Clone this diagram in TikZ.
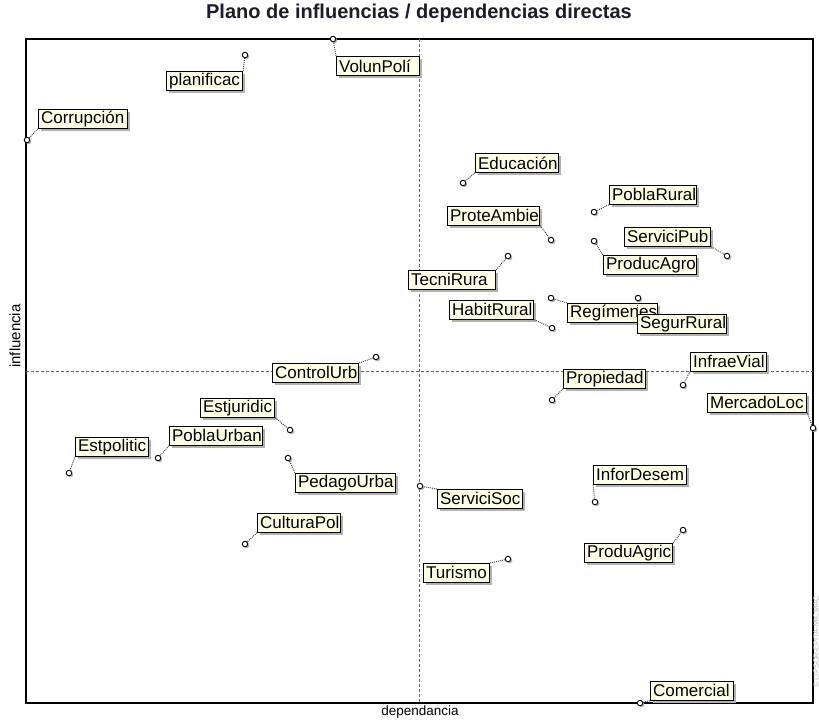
\documentclass[tikz,border=0pt]{standalone}
\usepackage{fontspec}
\setmainfont{Liberation Sans}
\usetikzlibrary{shadows}
\definecolor{cream}{HTML}{FFFFE6}
\definecolor{titlecol}{HTML}{1C1C2A}
\newcommand{\mylab}[2]{\makebox[#1pt][l]{\hspace{2.5pt}#2}}
\begin{document}
\begin{tikzpicture}[x=1pt,y=-1pt,
  lab/.style={draw=black, line width=1.2pt, fill=cream, inner sep=0pt,
    minimum height=18.5pt, anchor=north west, font=\fontsize{17}{18}\selectfont,
    drop shadow={shadow xshift=2.5pt, shadow yshift=-2.5pt, fill=gray!60, opacity=1}},
  pt/.style={circle, draw=black, fill=white, line width=0.9pt, inner sep=0pt,
    minimum size=5.5pt,
    drop shadow={shadow xshift=1.5pt, shadow yshift=-1.5pt, fill=gray!60, opacity=1}},
  conn/.style={densely dotted, line width=1pt, draw=gray!60!black},
  axisline/.style={draw=gray!80!black, line width=0.6pt, dash pattern=on 3pt off 2pt},
  axlab/.style={font=\fontsize{13.5}{15}\selectfont}]
\useasboundingbox (0,0) rectangle (819,721);
\fill[white] (0,0) rectangle (819,721);
\node[font=\bfseries\fontsize{20}{22}\selectfont, text=titlecol] (title) at (419,13) {Plano de influencias / dependencias directas};
% frame and axes
\draw[line width=1.3pt] (26,39) rectangle (813,703);
\draw[axisline] (419,39) -- (419,703);
\draw[axisline] (26,371) -- (813,371);
\node[axlab, rotate=90, font=\fontsize{15}{16}\selectfont] (ylab) at (15,336) {influencia};
\node[axlab] (xlab) at (420,712) {dependancia};
\node[rotate=90, font=\fontsize{7.5}{8}\selectfont, text=gray!55] (wm) at (816,642) {© LIPSOR-EPITA-MICMAC};
% labels
\node[lab] (l1) at (336,56) {\mylab{83}{VolunPolí}};
\node[lab] (l2) at (166,71) {\mylab{76}{planificac}};
\node[lab] (l3) at (38,109) {\mylab{89}{Corrupción}};
\node[lab] (l4) at (475,153) {\mylab{83}{Educación}};
\node[lab] (l5) at (609,185) {\mylab{87}{PoblaRural}};
\node[lab] (l6) at (447,206) {\mylab{92}{ProteAmbie}};
\node[lab] (l7) at (624,227) {\mylab{86}{ServiciPub}};
\node[lab] (l8) at (603,255) {\mylab{93}{ProducAgro}};
\node[lab] (l9) at (408,270) {\mylab{87}{TecniRura}};
\node[lab] (l10) at (449,300) {\mylab{84}{HabitRural}};
\node[lab] (l11) at (567,303) {\mylab{90}{Regímenes}};
\node[lab] (l12) at (637,314) {\mylab{89}{SegurRural}};
\node[lab] (l13) at (690,352) {\mylab{76}{InfraeVial}};
\node[lab] (l14) at (563,369) {\mylab{82}{Propiedad}};
\node[lab] (l15) at (707,393) {\mylab{99}{MercadoLoc}};
\node[lab] (l16) at (593,465) {\mylab{93}{InforDesem}};
\node[lab] (l17) at (437,489) {\mylab{85}{ServiciSoc}};
\node[lab] (l18) at (584,543) {\mylab{88}{ProduAgric}};
\node[lab] (l19) at (423,563) {\mylab{66}{Turismo}};
\node[lab] (l20) at (650,681) {\mylab{83}{Comercial}};
\node[lab] (l21) at (272,363) {\mylab{86}{ControlUrb}};
\node[lab] (l22) at (200,398) {\mylab{74}{Estjuridic}};
\node[lab] (l23) at (169,426) {\mylab{93}{PoblaUrban}};
\node[lab] (l24) at (75,437) {\mylab{73}{Estpolitic}};
\node[lab] (l25) at (295,473) {\mylab{100}{PedagoUrba}};
\node[lab] (l26) at (257,513) {\mylab{83}{CulturaPol}};
% points
\node[pt] (p1) at (333,39) {};
\node[pt] (p2) at (245,55) {};
\node[pt] (p3) at (27,140) {};
\node[pt] (p4) at (463,183) {};
\node[pt] (p5) at (594,212) {};
\node[pt] (p6) at (551,240) {};
\node[pt] (p7) at (727,256) {};
\node[pt] (p8) at (594,241) {};
\node[pt] (p9) at (508,256) {};
\node[pt] (p10) at (552,328) {};
\node[pt] (p11) at (551,298) {};
\node[pt] (p12) at (638,298) {};
\node[pt] (p13) at (683,385) {};
\node[pt] (p14) at (552,400) {};
\node[pt] (p15) at (813,428) {};
\node[pt] (p16) at (595,502) {};
\node[pt] (p17) at (420,486) {};
\node[pt] (p18) at (683,530) {};
\node[pt] (p19) at (508,559) {};
\node[pt] (p20) at (640,703) {};
\node[pt] (p21) at (376,357) {};
\node[pt] (p22) at (290,430) {};
\node[pt] (p23) at (158,458) {};
\node[pt] (p24) at (69,473) {};
\node[pt] (p25) at (288,458) {};
\node[pt] (p26) at (245,544) {};
% connectors
\draw[conn] (l1.north west) -- (p1);
\draw[conn] (l2.north east) -- (p2);
\draw[conn] (l3.south west) -- (p3);
\draw[conn] (l4.south west) -- (p4);
\draw[conn] (l5.south west) -- (p5);
\draw[conn] (l6.south east) -- (p6);
\draw[conn] (l7.south east) -- (p7);
\draw[conn] (l8.north west) -- (p8);
\draw[conn] (l9.north east) -- (p9);
\draw[conn] (l10.south east) -- (p10);
\draw[conn] (l11.north west) -- (p11);
\draw[conn] (l12.north west) -- (p12);
\draw[conn] (l13.south west) -- (p13);
\draw[conn] (l14.south west) -- (p14);
\draw[conn] (l15.south east) -- (p15);
\draw[conn] (l16.south west) -- (p16);
\draw[conn] (l17.north west) -- (p17);
\draw[conn] (l18.north east) -- (p18);
\draw[conn] (l19.north east) -- (p19);
\draw[conn] (l20.south west) -- (p20);
\draw[conn] (l21.north east) -- (p21);
\draw[conn] (l22.south east) -- (p22);
\draw[conn] (l23.south west) -- (p23);
\draw[conn] (l24.south west) -- (p24);
\draw[conn] (l25.north west) -- (p25);
\draw[conn] (l26.south west) -- (p26);
\end{tikzpicture}
\end{document}
